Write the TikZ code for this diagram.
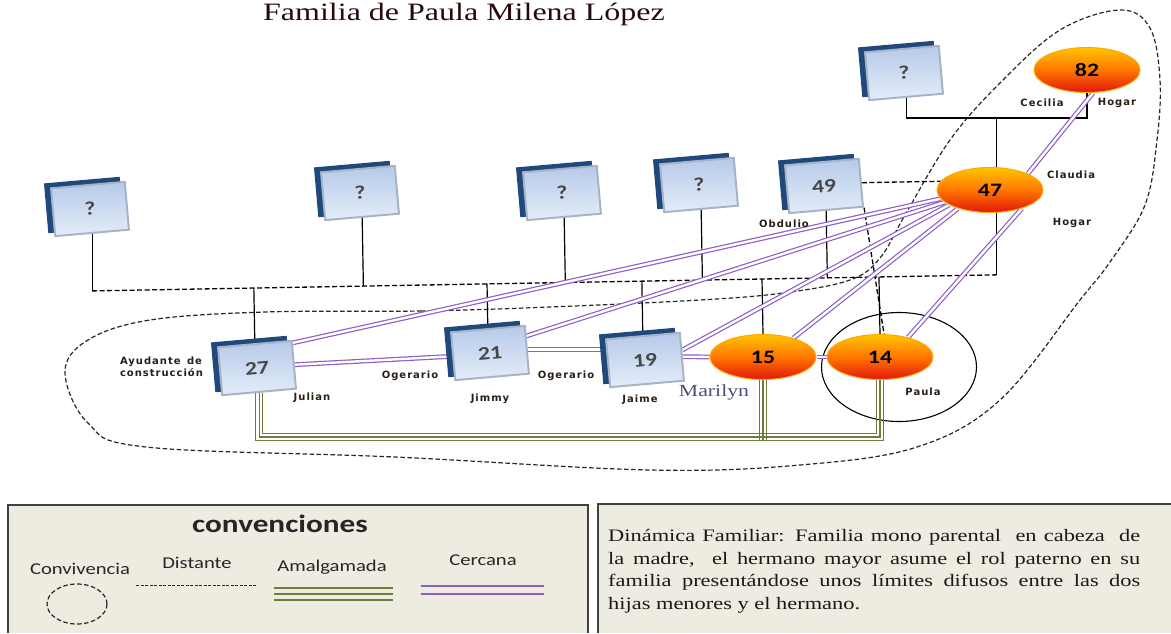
\documentclass[tikz,border=0pt]{standalone}
\usepackage{fontspec}
\setmainfont{Liberation Serif}
\newfontfamily\serifwide[FakeStretch=1.28]{Liberation Serif}
\newfontfamily\calfont[FakeStretch=1.25]{Carlito}
\newfontfamily\labfont[LetterSpace=10]{DejaVu Sans}
\usetikzlibrary{shapes.geometric,calc}
\pgfdeclarelayer{background}
\pgfsetlayers{background,main}
\definecolor{boxdark}{RGB}{31,73,125}
\definecolor{boxtop}{RGB}{182,202,234}
\definecolor{boxbot}{RGB}{228,236,248}
\definecolor{boxedge}{RGB}{168,180,198}
\definecolor{elltop}{RGB}{255,196,0}
\definecolor{ellmid}{RGB}{255,118,0}
\definecolor{ellbot}{RGB}{226,22,10}
\definecolor{cerc}{RGB}{142,94,196}
\definecolor{amal}{RGB}{107,127,58}
\definecolor{panel}{RGB}{238,236,225}
\definecolor{marilyn}{RGB}{70,80,120}
\definecolor{labtxt}{RGB}{40,30,20}
\definecolor{titlec}{RGB}{40,10,10}
\tikzset{
  male/.style={rectangle, rotate=5, minimum width=74pt, minimum height=48pt, inner sep=0pt,
    draw=boxedge, line width=2pt, top color=boxtop, bottom color=boxbot, text=black!72,
    font=\calfont\bfseries\fontsize{19}{19}\selectfont,
    preaction={fill=boxdark, draw=boxdark, line width=2pt, transform canvas={shift={(-6pt,4pt)}}}},
  female/.style={ellipse, minimum width=106pt, minimum height=45pt, inner sep=0pt,
    draw=orange!70!yellow, line width=1pt, top color=elltop, bottom color=ellbot, middle color=ellmid,
    font=\calfont\bfseries\fontsize{19}{19}\selectfont, text=black},
  lab/.style={font=\labfont\bfseries\fontsize{10}{12}\selectfont, text=labtxt, inner sep=1pt},
  cercana/.style={draw=cerc, line width=1.2pt, double=white, double distance=2.4pt},
  amalg/.style={draw=amal, line width=1.3pt},
  distante/.style={draw=black, line width=1.3pt, dash pattern=on 5pt off 2.5pt},
  sol/.style={draw=black, line width=1.2pt},
  conv/.style={draw=black!85, line width=1.2pt, dash pattern=on 4.5pt off 2.5pt},
  legfont/.style={font=\calfont\fontsize{16.5}{16.5}\selectfont, text=black!85}
}
\begin{document}
\begin{tikzpicture}[x=1pt,y=-1pt]
\useasboundingbox (0,0) rectangle (1171,633);

% title
\node[font=\serifwide\fontsize{25}{25}\selectfont, text=titlec, anchor=base] (title) at (464,20) {Familia de Paula Milena López};

% persons
\node[male] (f1) at (90,209) {?};
\node[male] (f2) at (360,193) {?};
\node[male] (f3) at (562,193) {?};
\node[male] (f4) at (699,185) {?};
\node[male] (n49) at (824,186) {49};
\node[male] (n0) at (904,73) {?};
\node[female] (n82) at (1087,70) {82};
\node[female] (n47) at (990,190) {47};
\node[male] (n27) at (257,368) {27};
\node[male] (n21) at (490,353) {21};
\node[male] (n19) at (645,360) {19};
\node[female] (n15) at (763,357) {15};
\node[female] (n14) at (880,357) {14};

% labels
\node[lab] (lObd) at (784,224) {Obdulio};
\node[lab] (lCec) at (1042,103) {Cecilia};
\node[lab] (lHog1) at (1117,103) {Hogar};
\node[lab] (lCla) at (1071,175) {Claudia};
\node[lab] (lHog2) at (1072,223) {Hogar};
\node[lab, text width=82pt, align=left] (lAyu) at (161,367) {Ayudante\hfill de\\construcción};
\node[lab] (lJul) at (312,398) {Julian};
\node[lab] (lOg1) at (410,376) {Ogerario};
\node[lab] (lJim) at (490,399) {Jimmy};
\node[lab] (lOg2) at (566,376) {Ogerario};
\node[lab] (lJai) at (640,400) {Jaime};
\node[font=\serifwide\fontsize{17}{17}\selectfont, text=marilyn] (lMar) at (714,392) {Marilyn};
\node[lab] (lPau) at (923,392) {Paula};

\begin{pgfonlayer}{background}
% convivencia boundary
\draw[conv] plot[smooth cycle, tension=0.6] coordinates {
 (265,312) (421,311) (550,307) (700,300) (783,293) (850,280) (880,258) (905,215)
 (950,140) (1000,83) (1060,30) (1120,10) (1150,28) (1160,80) (1157,140) (1145,205)
 (1110,262) (1080,300) (1000,400) (917,447) (800,465) (650,470) (395,457) (146,447)
 (88,423) (65,372) (88,340) (150,320)};
\node[draw, line width=1.1pt, ellipse, minimum width=155pt, minimum height=109pt, inner sep=0pt] (c14) at (899,367) {};

% parents line
\coordinate (pl) at ($(f1.south)+(0,57)$);
\coordinate (pr) at ($(n47.-75)+(0,62)$);
\draw[distante] (pl) -- (pr);
\draw[sol] (f1.south) -- (pl);
\draw[sol] (n47.-75) -- (pr);
\foreach \p in {f2,f3,f4,n49} \draw[sol] (\p.south) -- ($(pl)!(\p.south)!(pr)$);
\foreach \c in {n27,n21,n19,n15,n14} \draw[sol] (\c.north) -- ($(pl)!(\c.north)!(pr)$);

% top family
\coordinate (tj) at ($(n0.south)+(0,20)$);
\draw[sol] (n0.south) -- (tj) -| (n82.south);
\draw[sol] (n47.75) -- (n47.75 |- tj);

% distant relations
\draw[distante] (n49.east) -- (n47.170);
\draw[distante] (n49.south east) -- (n14.80);

% close relations
\draw[cercana] (n47.north east) -- (n82.-75);
\draw[cercana] (n27.30) -- (n47.190);
\draw[cercana] (n21.20) -- (n47.195);
\draw[cercana] (n19.10) -- (n47.200);
\draw[cercana] (n15.32) -- (n47.210);
\draw[cercana] (n14.35) -- (n47.330);
\draw[cercana] (n27.east) -- (n21.west);
\draw[cercana] (n21.east) -- (n21.east -| n19.west);
\draw[cercana] (n19.east) -- (n15.west);
\draw[cercana] (n15.east) -- (n14.west);

% amalgamated relations
\coordinate (amY) at (0,437);
\foreach \k/\m in {-3.5/3.5,0/0,3.5/-3.5} {
  \draw[amalg] ($(n27.south)+(\k,0)$) |- ($(n14.south |- amY)+(\m,\m)$) -- ($(n14.south)+(\m,0)$);
  \draw[amalg] ($(n15.south)+(\k,0)$) -- ($(n15.south |- amY)+(\k,3.5)$);
}
\end{pgfonlayer}

% legend
\path[fill=panel] (8,505) rectangle (588,633);
\draw[line width=1.3pt, draw=black!75] (8,633) -- (8,505) -- (588,505) -- (588,633);
\node[font=\calfont\bfseries\fontsize{25}{25}\selectfont, text=black!85] (legT) at (280,524) {convenciones};
\node[legfont] (legC) at (80,569) {Convivencia};
\node[legfont] (legD) at (197,563) {Distante};
\node[legfont] (legA) at (332,567) {Amalgamada};
\node[legfont] (legCe) at (483,560) {Cercana};
\draw[conv] (77,604) ellipse [x radius=30, y radius=20];
\draw[draw=black!85, line width=1pt, dash pattern=on 3pt off 1.5pt] (136,585) -- (257,585);
\foreach \y in {588,594,600} \draw[draw=amal, line width=1.8pt] (274,\y) -- (393,\y);
\foreach \y in {586,594} \draw[draw=cerc, line width=1.8pt] (421,\y) -- (544,\y);

% dynamics text box
\path[fill=panel] (598,504) rectangle (1171,633);
\draw[line width=1.3pt, draw=black!75] (598,633) -- (598,504) -- (1171,504);
\node[anchor=north west, text width=532pt, align=justify, inner sep=0pt, text=black!90,
      font=\serifwide\fontsize{17.5}{22.7}\selectfont] (dyn) at (608,529)
 {Dinámica Familiar: Familia mono parental\ \ en cabeza\ \ de\linebreak
  la madre,\ \ el hermano mayor asume el rol paterno en su\linebreak
  familia presentándose unos límites difusos entre las dos\linebreak
  hijas menores y el hermano.};
\end{tikzpicture}
\end{document}
